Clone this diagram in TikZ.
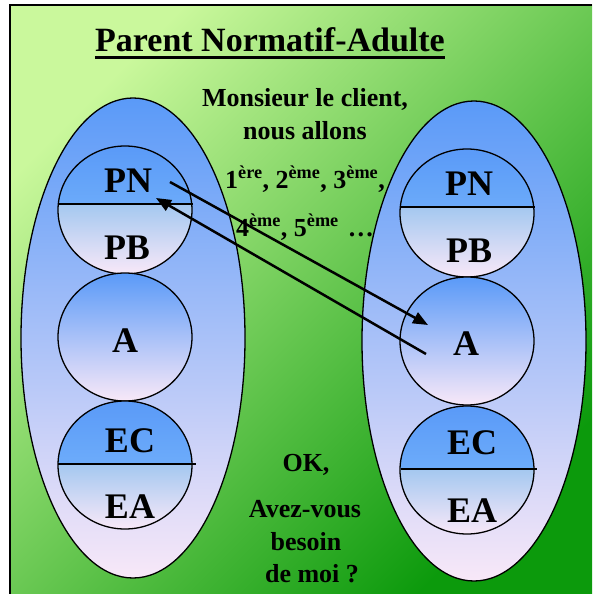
\documentclass[tikz,border=0pt]{standalone}
\usepackage{fontspec}
\setmainfont{Liberation Serif}
\usetikzlibrary{arrows.meta,shapes.geometric,calc}

\definecolor{bgLight}{HTML}{CAF89C}
\definecolor{bgMid}{HTML}{78D858}
\definecolor{bgDark}{HTML}{0C9A0C}
\definecolor{egoTop}{HTML}{5A9AF8}
\definecolor{egoMid}{HTML}{8CC4FC}
\definecolor{egoLow}{HTML}{F8E8F8}
\definecolor{upperEnd}{HTML}{80BEFC}
\definecolor{lowerStart}{HTML}{A4C8F0}

\tikzset{
  person/.style={draw=black, line width=1.3pt, ellipse, inner sep=0pt,
    minimum width=224pt, minimum height=480pt,
    top color=egoTop, middle color=egoMid, bottom color=egoLow},
  egostate/.style={draw=black, line width=1.3pt, ellipse, inner sep=0pt,
    minimum width=134pt, minimum height=128pt,
    top color=egoTop, middle color=egoMid, bottom color=egoLow},
  % circle cut in two halves, each with its own shading; #1 = offset of the cut
  splitstate/.style={egostate, path picture={
      \shade[top color=egoTop, bottom color=upperEnd]
        (path picture bounding box.north west) rectangle
        ($(path picture bounding box.east)+(0,#1)$);
      \shade[top color=lowerStart, bottom color=egoLow]
        ($(path picture bounding box.west)+(0,#1)$) rectangle
        (path picture bounding box.south east);}},
  divider/.style={line width=1.3pt},
  lbl/.style={font=\fontsize{36}{36}\selectfont\bfseries, anchor=base, inner sep=0pt},
  talk/.style={font=\fontsize{26}{26}\selectfont\bfseries, anchor=base, inner sep=0pt},
  msg/.style={line width=2.5pt, -{Triangle[length=15pt,width=12pt]}},
}

\begin{document}
\begin{tikzpicture}[x=1pt, y=-1pt]
  \useasboundingbox (0,0) rectangle (592,594);
  \fill[white] (0,0) rectangle (592,594);

  % slide background and frame
  \shade[top color=bgLight, middle color=bgMid, bottom color=bgDark, shading angle=45]
    (10,5) rectangle (592,594);
  \draw[line width=2pt] (10,594) -- (10,5) -- (592,5);

  % title
  \node[font=\fontsize{34}{34}\selectfont\bfseries, anchor=base, inner sep=0pt]
    (title) at (270,52) {Parent Normatif-Adulte};
  \draw[line width=2.6pt] ($(title.base west)+(0,5.5)$) -- ($(title.base east)+(0,5.5)$);

  % the two persons
  \node[person] (left) at (133,338) {};
  \node[person] (right) at (474,341) {};

  % left person: ego states
  \node[splitstate=-6] (lp) at (125,210) {};
  \node[egostate] (la) at (125,337) {};
  \node[splitstate=-1] (le) at (125,465) {};
  \draw[divider] ($(lp.center)+(-67,-6)$) -- ($(lp.center)+(68,-6)$);
  \draw[divider] ($(le.center)+(-67,-1)$) -- ($(le.center)+(71,-1)$);

  % right person: ego states
  \node[splitstate=-6] (rp) at (467,213) {};
  \node[egostate] (ra) at (467,341) {};
  \node[splitstate=-1] (re) at (467,470) {};
  \draw[divider] ($(rp.center)+(-66,-6)$) -- ($(rp.center)+(68,-6)$);
  \draw[divider] ($(re.center)+(-66,-1)$) -- ($(re.center)+(70,-1)$);

  % labels
  \node[lbl] (lpn) at (128,192) {PN};
  \node[lbl] (lpb) at (127,259) {PB};
  \node[lbl] (laa) at (125,352) {A};
  \node[lbl] (lec) at (130,452) {EC};
  \node[lbl] (lea) at (130,518) {EA};
  \node[lbl] (rpn) at (469,195) {PN};
  \node[lbl] (rpb) at (469,262) {PB};
  \node[lbl] (raa) at (466,355) {A};
  \node[lbl] (rec) at (472,454) {EC};
  \node[lbl] (rea) at (472,522) {EA};

  % dialogue
  \node[talk] (t1) at (305,106) {Monsieur le client,};
  \node[talk] (t2) at (305,139) {nous allons};
  \node[talk] (t3) at (305,188) {1\textsuperscript{ère}, 2\textsuperscript{ème}, 3\textsuperscript{ème},};
  \node[talk] (t4) at (305,236) {4\textsuperscript{ème}, 5\textsuperscript{ème}\hspace{0.35em}…};
  \node[talk] (t5) at (306,471) {OK,};
  \node[talk] (t6) at (305,517) {Avez-vous};
  \node[talk] (t7) at (306,550) {besoin};
  \node[talk] (t8) at (312,582) {de moi ?};

  % transactions
  \coordinate (s1) at (170,182);
  \coordinate (e1) at (428,325);
  \coordinate (s2) at (426,354);
  \coordinate (e2) at (156,198);
  \draw[msg] (s1) -- (e1);
  \draw[msg] (s2) -- (e2);
\end{tikzpicture}
\end{document}
